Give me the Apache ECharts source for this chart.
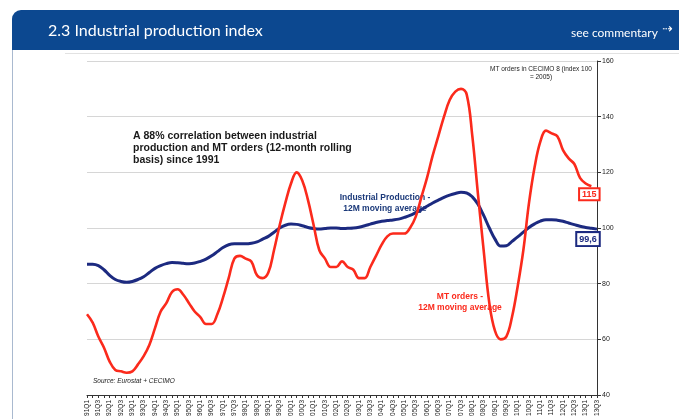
<!DOCTYPE html>
<html>
<head>
<meta charset="utf-8">
<script src="https://cdn.jsdelivr.net/npm/echarts@6/dist/echarts.min.js"></script>
<style>
  html, body { margin: 0; padding: 0; background: #fff; }
  #chart { width: 679px; height: 419px; }
</style>
</head>
<body>
<div id="chart"></div>
<script>
// quarters 91Q1 .. 13Q3
const quarters = []
for (let y = 1991; y <= 2013; y++) {
  for (let q = 1; q <= 4; q++) {
    if (y === 2013 && q > 3) break
    quarters.push(String(y).slice(2) + 'Q' + q)
  }
}

// MT orders in CECIMO 8 (index 100 = 2005), 12M moving average
const mtOrders = [
  69, 66, 61, 57, 52, 49, 48.5, 48, 48.5, 51,
  54, 58, 64, 70, 73, 77, 78, 76, 73, 70,
  68, 65.5, 65.5, 69, 75, 82, 89, 90, 89, 88,
  83, 82, 84, 92, 101, 109, 116, 120, 117, 110,
  101, 92, 89, 86, 86, 88, 86, 85, 82, 82,
  86, 90, 94, 97, 98, 98, 98, 100, 104, 111,
  118, 126, 133, 140, 146, 149, 150, 148, 133, 112,
  92, 73, 63, 60, 61, 68, 79, 92, 109, 122,
  131, 135, 134, 133, 128, 125, 123, 118, 116, 115,
  null
]

// Industrial production, 12M moving average
const indProd = [
  87, 87, 86.5, 85, 83, 81.5, 80.8, 80.5, 80.8, 81.5,
  82.5, 84, 85.5, 86.5, 87.2, 87.6, 87.5, 87.3, 87.2, 87.4,
  88, 88.8, 90, 91.5, 93, 94, 94.3, 94.3, 94.3, 94.5,
  95, 96, 97, 98.5, 100, 101, 101.4, 101.3, 100.8, 100.2,
  99.8, 99.6, 99.8, 100, 100, 99.8, 99.9, 100, 100.3, 100.8,
  101.4, 102, 102.4, 102.7, 102.9, 103.2, 103.8, 104.5, 105.5, 106.6,
  107.8, 109, 110, 111, 111.8, 112.4, 112.8, 112.6, 111.2, 108.5,
  104.5, 100, 96, 93.5, 93.6, 95.2, 96.8, 98.5, 100.2, 101.5,
  102.5, 103, 103, 102.8, 102.4, 101.8, 101.2, 100.6, 100.2, 99.9,
  99.6
]

const lastRed = 89
const lastBlue = 90

const chart = echarts.init(document.getElementById('chart'))
const txt = '"Liberation Sans", Arial, sans-serif'

const option = {
  animation: false,
  textStyle: { fontFamily: txt },
  grid: { left: 87, right: 82, top: 61, bottom: 24 },
  xAxis: {
    type: 'category',
    data: quarters,
    boundaryGap: false,
    axisLine: { lineStyle: { color: '#333', width: 1 } },
    axisTick: { interval: 0, length: 3, lineStyle: { color: '#333' } },
    axisLabel: {
      interval: 1,
      rotate: 90,
      fontSize: 6.5,
      color: '#222',
      margin: 5
    },
    splitLine: { show: false }
  },
  yAxis: {
    type: 'value',
    position: 'right',
    min: 40,
    max: 160,
    interval: 20,
    axisLine: { show: true, lineStyle: { color: '#333', width: 1 } },
    axisTick: { show: true, length: 4, lineStyle: { color: '#333' } },
    axisLabel: { fontSize: 7, color: '#222', margin: 5 },
    splitLine: { lineStyle: { color: '#d6d6d6', width: 1 } }
  },
  series: [
    {
      name: 'Industrial Production',
      type: 'line',
      data: indProd,
      smooth: 0.4,
      showSymbol: false,
      lineStyle: { color: '#1c2a80', width: 3 },
      markPoint: {
        symbol: 'rect',
        symbolSize: 1,
        itemStyle: { color: 'rgba(0,0,0,0)' },
        data: [{ coord: [lastBlue, indProd[lastBlue]] }],
        label: {
          show: true,
          position: 'inside',
          offset: [-9, 10],
          formatter: '99,6',
          color: '#1c2a80',
          fontWeight: 'bold',
          fontSize: 9,
          backgroundColor: '#fff',
          borderColor: '#1c2a80',
          borderWidth: 2,
          padding: [2, 2, 1, 2]
        }
      }
    },
    {
      name: 'MT orders',
      type: 'line',
      data: mtOrders,
      smooth: 0.4,
      showSymbol: false,
      lineStyle: { color: '#fb2a1c', width: 2.6 },
      markPoint: {
        symbol: 'rect',
        symbolSize: 1,
        itemStyle: { color: 'rgba(0,0,0,0)' },
        data: [{ coord: [lastRed, mtOrders[lastRed]] }],
        label: {
          show: true,
          position: 'inside',
          offset: [-2, 8],
          formatter: '115',
          color: '#fb2a1c',
          fontWeight: 'bold',
          fontSize: 9,
          backgroundColor: '#fff',
          borderColor: '#fb2a1c',
          borderWidth: 2,
          padding: [1, 2, 0, 2]
        }
      }
    }
  ],
  graphic: [
    // header bar
    {
      type: 'rect',
      shape: { x: 12, y: 10, width: 680, height: 40, r: [9, 0, 0, 0] },
      style: { fill: '#0c4890' },
      z: 10
    },
    {
      type: 'text',
      z: 11,
      style: {
        x: 48, y: 31,
        text: '2.3 Industrial production index',
        fill: '#fff',
        font: '16px Lato, "Open Sans", sans-serif',
        verticalAlign: 'middle'
      }
    },
    {
      type: 'text',
      z: 11,
      style: {
        x: 571, y: 33,
        text: 'see commentary',
        fill: '#fff',
        font: '12px Lato, "Open Sans", sans-serif',
        verticalAlign: 'middle'
      }
    },
    {
      type: 'text',
      z: 11,
      style: {
        x: 662, y: 30,
        text: '⇢',
        fill: '#fff',
        font: '13px "DejaVu Sans", sans-serif',
        verticalAlign: 'middle'
      }
    },
    // panel borders
    {
      type: 'line',
      shape: { x1: 12.5, y1: 50, x2: 12.5, y2: 419 },
      style: { stroke: '#a9b9cf', lineWidth: 1 }
    },
    {
      type: 'line',
      shape: { x1: 65, y1: 53.5, x2: 679, y2: 53.5 },
      style: { stroke: '#e2e2e2', lineWidth: 1 }
    },
    // annotations
    {
      type: 'text',
      style: {
        x: 133, y: 130,
        text: 'A 88% correlation between industrial\nproduction and MT orders (12-month rolling\nbasis) since 1991',
        fill: '#1a1a1a',
        font: 'bold 10.5px "Liberation Sans", Arial, sans-serif',
        lineHeight: 12
      }
    },
    {
      type: 'text',
      style: {
        x: 385, y: 192,
        text: 'Industrial Production -\n12M moving average',
        fill: '#1c3a7a',
        font: 'bold 8.5px "Liberation Sans", Arial, sans-serif',
        align: 'center',
        lineHeight: 11
      }
    },
    {
      type: 'text',
      style: {
        x: 460, y: 291,
        text: 'MT orders -\n12M moving average',
        fill: '#fb2a1c',
        font: 'bold 8.5px "Liberation Sans", Arial, sans-serif',
        align: 'center',
        lineHeight: 11
      }
    },
    {
      type: 'text',
      style: {
        x: 541, y: 65,
        text: 'MT orders in CECIMO 8 (index 100\n= 2005)',
        fill: '#222',
        font: '6.5px "Liberation Sans", Arial, sans-serif',
        align: 'center',
        lineHeight: 8
      }
    },
    {
      type: 'text',
      style: {
        x: 93, y: 378,
        text: 'Source: Eurostat + CECIMO',
        fill: '#222',
        font: 'italic 6.5px "Liberation Sans", Arial, sans-serif'
      }
    }
  ]
}

chart.setOption(option)
</script>
</body>
</html>
